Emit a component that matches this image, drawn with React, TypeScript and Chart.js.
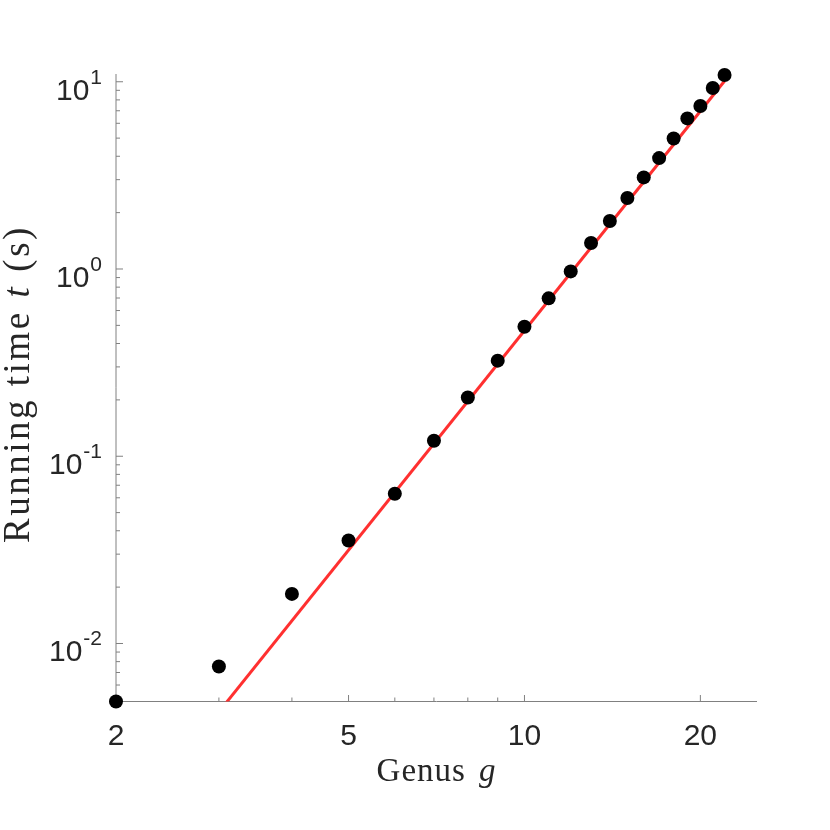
import React, { useEffect, useRef } from 'react';
import { Chart, registerables } from 'chart.js';

Chart.register(...registerables);

// ---- data ----
const genus = [2, 3, 4, 5, 6, 7, 8, 9, 10, 11, 12, 13, 14, 15, 16, 17, 18, 19, 20, 21, 22];
const runningTime = [
  0.0049, 0.00754, 0.0184, 0.0355, 0.063, 0.121, 0.206, 0.324, 0.492, 0.697, 0.971,
  1.377, 1.805, 2.394, 3.085, 3.91, 4.98, 6.37, 7.42, 9.26, 10.86,
];
const fitGenus = [2, 22];
const fitTime = [0.00089, 10.1];

const xMin = 2;
const xMax = 25;
const yMin = 0.0049;
const yMax = 11;

const xMajorTicks = [2, 5, 10, 20];
const xTickLabels = ['2', '5', '10', '20'];
const xMinorTicks = [3, 4, 6, 7, 8, 9];
const yMajorTicks = [0.01, 0.1, 1, 10];
const yTickExponents = ['-2', '-1', '0', '1'];
const yMinorTicks = [
  0.005, 0.006, 0.007, 0.008, 0.009,
  0.02, 0.03, 0.04, 0.05, 0.06, 0.07, 0.08, 0.09,
  0.2, 0.3, 0.4, 0.5, 0.6, 0.7, 0.8, 0.9,
  2, 3, 4, 5, 6, 7, 8, 9,
];
const xTitleParts = ['Genus', 'g'];
const yTitleParts = ['Running time', 't', '(s)'];

const AXIS_COLOR = '#808080';
const TEXT_COLOR = '#262626';
const SANS = '"Liberation Sans", Arial, Helvetica, sans-serif';
const SERIF = '"Liberation Serif", "Times New Roman", serif';

const axesPlugin = {
  id: 'matlabAxes',
  beforeDatasetsDraw(chart: any) {
    const { ctx, chartArea: a, scales } = chart;
    const xs = scales.x;
    const ys = scales.y;
    ctx.save();
    ctx.strokeStyle = AXIS_COLOR;
    ctx.lineWidth = 1;
    ctx.beginPath();
    ctx.moveTo(a.left, a.top);
    ctx.lineTo(a.left, a.bottom);
    ctx.lineTo(a.right, a.bottom);
    ctx.stroke();

    ctx.beginPath();
    xMajorTicks.forEach((v) => {
      const px = xs.getPixelForValue(v);
      ctx.moveTo(px, a.bottom);
      ctx.lineTo(px, a.bottom - 6.5);
    });
    xMinorTicks.forEach((v) => {
      const px = xs.getPixelForValue(v);
      ctx.moveTo(px, a.bottom);
      ctx.lineTo(px, a.bottom - 4);
    });
    yMajorTicks.forEach((v) => {
      const py = ys.getPixelForValue(v);
      ctx.moveTo(a.left, py);
      ctx.lineTo(a.left + 7, py);
    });
    yMinorTicks.forEach((v) => {
      const py = ys.getPixelForValue(v);
      ctx.moveTo(a.left, py);
      ctx.lineTo(a.left + 4, py);
    });
    ctx.stroke();
    ctx.restore();
  },
  afterDraw(chart: any) {
    const { ctx, chartArea: a, scales } = chart;
    const xs = scales.x;
    const ys = scales.y;
    ctx.save();
    ctx.fillStyle = TEXT_COLOR;
    ctx.textBaseline = 'alphabetic';

    // x tick labels
    ctx.font = `30px ${SANS}`;
    ctx.textAlign = 'center';
    xMajorTicks.forEach((v, i) => {
      ctx.fillText(xTickLabels[i], xs.getPixelForValue(v), a.bottom + 43.5);
    });

    // y tick labels 10^e
    ctx.textAlign = 'left';
    const right = a.left - 14;
    yMajorTicks.forEach((v, i) => {
      const py = ys.getPixelForValue(v);
      ctx.font = `21px ${SANS}`;
      const expW = ctx.measureText(yTickExponents[i]).width;
      ctx.fillText(yTickExponents[i], right - expW, py + 2);
      ctx.font = `30px ${SANS}`;
      const mainW = ctx.measureText('10').width;
      ctx.fillText('10', right - expW - 1 - mainW, py + 18);
    });

    // x title
    const cx = (a.left + a.right) / 2;
    (ctx as any).letterSpacing = '1px';
    ctx.font = `33px ${SERIF}`;
    const w1 = ctx.measureText(xTitleParts[0]).width;
    ctx.font = `italic 33px ${SERIF}`;
    const w2 = ctx.measureText(xTitleParts[1]).width;
    const gapX = 13;
    const startX = cx - (w1 + gapX + w2) / 2;
    ctx.font = `33px ${SERIF}`;
    ctx.fillText(xTitleParts[0], startX, 781);
    ctx.font = `italic 33px ${SERIF}`;
    ctx.fillText(xTitleParts[1], startX + w1 + gapX, 781);

    // y title (rotated)
    (ctx as any).letterSpacing = '2.5px';
    const fN = `37px ${SERIF}`;
    const fI = `italic 37px ${SERIF}`;
    ctx.font = fN;
    const p0 = ctx.measureText(yTitleParts[0]).width;
    const p2 = ctx.measureText(yTitleParts[2]).width;
    ctx.font = fI;
    const p1 = ctx.measureText(yTitleParts[1]).width;
    const gapY = 13;
    const total = p0 + gapY + p1 + gapY + p2;
    ctx.translate(29, 384);
    ctx.rotate(-Math.PI / 2);
    let s = -total / 2;
    ctx.font = fN;
    ctx.fillText(yTitleParts[0], s, 0);
    s += p0 + gapY;
    ctx.font = fI;
    ctx.fillText(yTitleParts[1], s, 0);
    s += p1 + gapY;
    ctx.font = fN;
    ctx.fillText(yTitleParts[2], s, 0);
    ctx.restore();
  },
};

export default function App() {
  const canvasRef = useRef<HTMLCanvasElement | null>(null);

  useEffect(() => {
    if (!canvasRef.current) return;
    const chart = new Chart(canvasRef.current, {
      type: 'scatter',
      data: {
        datasets: [
          {
            label: 'Measured',
            data: genus.map((g, i) => ({ x: g, y: runningTime[i] })),
            backgroundColor: '#000000',
            borderWidth: 0,
            pointRadius: 7,
            pointHoverRadius: 7,
            clip: false as any,
            order: 0,
          },
          {
            label: 'Fit',
            data: fitGenus.map((g, i) => ({ x: g, y: fitTime[i] })),
            showLine: true,
            borderColor: '#ff3030',
            borderWidth: 3,
            pointRadius: 0,
            pointHoverRadius: 0,
            fill: false,
            order: 1,
          },
        ],
      },
      options: {
        responsive: false,
        devicePixelRatio: 1,
        animation: false,
        events: [],
        layout: { padding: { left: 116, right: 73, top: 74, bottom: 128.5 } },
        plugins: {
          legend: { display: false },
          tooltip: { enabled: false },
          title: { display: false },
        },
        scales: {
          x: { type: 'logarithmic', min: xMin, max: xMax, display: false },
          y: { type: 'logarithmic', min: yMin, max: yMax, display: false },
        },
      },
      plugins: [axesPlugin],
    });
    return () => chart.destroy();
  }, []);

  return (
    <div style={{ position: 'absolute', left: 0, top: 0, width: 830, height: 830, background: '#ffffff' }}>
      <canvas ref={canvasRef} width={830} height={830} />
    </div>
  );
}
